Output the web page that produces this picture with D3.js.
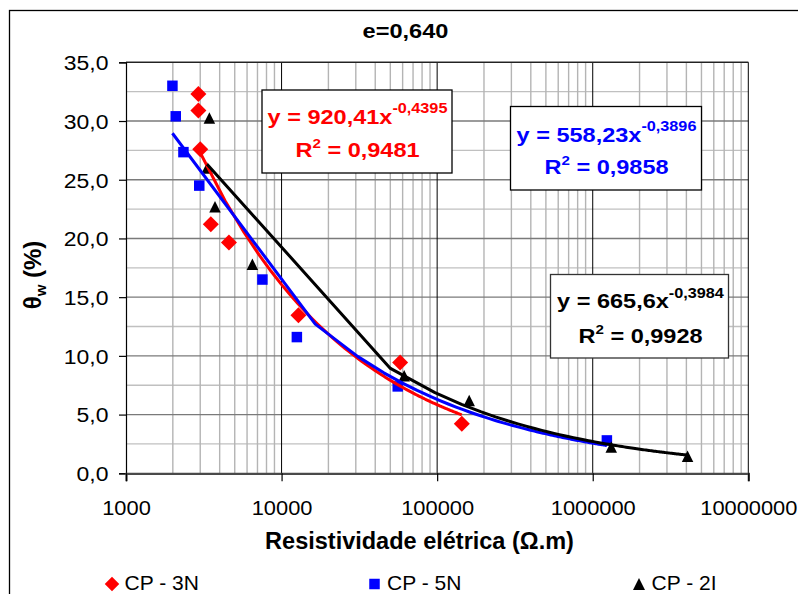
<!DOCTYPE html>
<html>
<head>
<meta charset="utf-8">
<script src="https://cdn.jsdelivr.net/npm/d3@7"></script>
<style>
  html, body { margin: 0; padding: 0; background: #fff; }
  svg { display: block; font-family: "Liberation Sans", Arial, sans-serif; }
</style>
</head>
<body>
<svg id="chart" width="798" height="594"></svg>
<script>
// Measured points: electrical resistivity (Ω.m) vs. volumetric water content θw (%)
const seriesNames = ["CP - 3N", "CP - 5N", "CP - 2I"];
const seriesColors = ["#ff0000", "#0000ff", "#000000"];

const cp3nX = [2920, 2920, 3000, 3510, 4590, 12830, 57800, 144000];
const cp3nY = [32.3, 30.9, 27.6, 21.2, 19.65, 13.45, 9.43, 4.23];

const cp5nX = [1988, 2088, 2340, 2958, 7530, 12540, 55800, 1233000];
const cp5nY = [33.0, 30.4, 27.35, 24.5, 16.5, 11.6, 7.4, 2.8];

const cp2iX = [3436, 3320, 3734, 6490, 61400, 160700, 1315000, 4070000];
const cp2iY = [30.25, 26.0, 22.7, 17.8, 8.3, 6.2, 2.25, 1.45];

// Power-law fits y = a·x^b shown in the labels
const fitA = [920.41, 558.23, 665.6];
const fitB = [-0.4395, -0.3896, -0.3984];
const fitR2 = ["0,9481", "0,9858", "0,9928"];
const fitAText = ["920,41", "558,23", "665,6"];
const fitBText = ["-0,4395", "-0,3896", "-0,3984"];
// trend curves are sampled at evenly spaced resistivity steps
const trendSegments = [100, 85, 87];

const xTickValues = [1000, 10000, 100000, 1000000, 10000000];
const yTickValues = [0, 5, 10, 15, 20, 25, 30, 35];

const chartTitle = "e=0,640";
const xTitle = "Resistividade elétrica (Ω.m)";

const svg = d3.select("#chart");

const x = d3.scaleLog().domain([1000, 10000000]).range([126, 748.3]);
const y = d3.scaleLinear().domain([0, 35]).range([473.3, 62.3]);

// outer chart frame
svg.append("rect")
  .attr("x", 9.5).attr("y", 10.5).attr("width", 820).attr("height", 620)
  .attr("fill", "#fff").attr("stroke", "#000").attr("stroke-width", 1.3);

const grid = svg.append("g");
const [x0, x1] = x.range();
const [y0, y1] = y.range();

// minor horizontal grid (every 2.5)
d3.range(2.5, 35, 5).forEach(v => {
  grid.append("line").attr("x1", x0).attr("x2", x1).attr("y1", y(v)).attr("y2", y(v))
    .attr("stroke", "#c0c0c0").attr("stroke-width", 1.3);
});
// minor vertical grid (2..9 in each decade)
[1000, 10000, 100000, 1000000].forEach(dec => {
  d3.range(2, 10).forEach(k => {
    const px = x(k * dec);
    grid.append("line").attr("x1", px).attr("x2", px).attr("y1", y1).attr("y2", y0)
      .attr("stroke", "#b4b4b4").attr("stroke-width", 1.4);
  });
});
// major horizontal grid
yTickValues.filter(v => v > 0).forEach(v => {
  grid.append("line").attr("x1", x0).attr("x2", x1).attr("y1", y(v)).attr("y2", y(v))
    .attr("stroke", "#7a7a7a").attr("stroke-width", 1.4);
});
// decade lines
xTickValues.slice(1).forEach(v => {
  grid.append("line").attr("x1", x(v)).attr("x2", x(v)).attr("y1", y1).attr("y2", y0)
    .attr("stroke", "#000").attr("stroke-width", 1);
});
grid.append("line").attr("x1", x0).attr("x2", x1).attr("y1", y1).attr("y2", y1)
  .attr("stroke", "#222").attr("stroke-width", 1.2);

const commaFmt = v => d3.format(".1f")(v).replace(".", ",");

// y axis
const gy = svg.append("g").attr("transform", `translate(${x0},0)`)
  .call(d3.axisLeft(y).tickValues(yTickValues).tickSize(7).tickFormat(commaFmt));
gy.select(".domain").attr("stroke", "#000").attr("stroke-width", 1.2);
gy.selectAll(".tick line").attr("stroke", "#000").attr("stroke-width", 1.2);
gy.selectAll(".tick text")
  .attr("x", 0).attr("dy", "0.36em")
  .attr("transform", "translate(-17.5,0) scale(1.12,1)")
  .attr("font-size", 20.5).attr("font-family", null).attr("fill", "#000");

// x axis
const gx = svg.append("g").attr("transform", `translate(0,${y0})`)
  .call(d3.axisBottom(x).tickValues(xTickValues).tickSize(8).tickFormat(d3.format("d")));
gx.select(".domain").attr("stroke", "#4a4a4a").attr("stroke-width", 2.2);
gx.selectAll(".tick line").attr("stroke", "#000").attr("stroke-width", 1.2);
gx.selectAll(".tick text")
  .attr("y", 0).attr("dy", null)
  .attr("transform", "translate(0,41.7) scale(1.04,1)")
  .attr("font-size", 21).attr("font-family", null).attr("fill", "#000");

// markers
function markerPath(kind, s) {
  if (kind === 0) { const h = s / 2; return `M0,${-h}L${h},0L0,${h}L${-h},0Z`; }
  if (kind === 1) { const h = s / 2; return `M${-h},${-h}H${h}V${h}H${-h}Z`; }
  const h = s / 2; return `M0,${-h}L${h},${h}L${-h},${h}Z`;
}
const markerSizes = [16, 10.5, 11.5];
const allX = [cp3nX, cp5nX, cp2iX];
const allY = [cp3nY, cp5nY, cp2iY];

allX.forEach((xs, si) => {
  const pts = xs.map((v, i) => [v, allY[si][i]]);
  svg.append("g").selectAll("path").data(pts).join("path")
    .attr("d", markerPath(si, markerSizes[si]))
    .attr("transform", d => `translate(${x(d[0])},${y(d[1])})`)
    .attr("fill", seriesColors[si]);
});

// power-law trend curves
const line = d3.line().x(d => x(d[0])).y(d => y(d[1]));
allX.forEach((xs, si) => {
  const lo = d3.min(xs), hi = d3.max(xs), n = trendSegments[si];
  const pts = d3.range(n + 1).map(i => {
    const xv = lo + (hi - lo) * i / n;
    return [xv, fitA[si] * Math.pow(xv, fitB[si])];
  });
  svg.append("path").attr("d", line(pts)).attr("fill", "none")
    .attr("stroke", seriesColors[si]).attr("stroke-width", 3)
    .attr("stroke-linejoin", "round");
});

// equation boxes
const boxes = [
  { x: 262, y: 90, w: 190, h: 83, l1: 123.5, l2: 156.5, cx: 357.5 },
  { x: 510.5, y: 106.5, w: 191, h: 83.5, l1: 141.5, l2: 174, cx: 606.5 },
  { x: 550.5, y: 274.5, w: 178, h: 83.5, l1: 308, l2: 343, cx: 640.5 }
];
boxes.forEach((b, si) => {
  svg.append("rect").attr("x", b.x).attr("y", b.y).attr("width", b.w).attr("height", b.h)
    .attr("fill", "#fff").attr("stroke", si === 2 ? "#333" : "#000").attr("stroke-width", 1.3);
  const g1 = svg.append("g").attr("transform", `translate(${b.cx},${b.l1}) scale(1.12,1)`);
  const t1 = g1.append("text").attr("text-anchor", "middle").attr("font-weight", "bold")
    .attr("font-size", 21).attr("fill", seriesColors[si]);
  t1.append("tspan").text(`y = ${fitAText[si]}x`);
  t1.append("tspan").attr("dy", -10.5).attr("font-size", 14.5).text(fitBText[si]);
  const g2 = svg.append("g").attr("transform", `translate(${b.cx},${b.l2}) scale(1.12,1)`);
  const t2 = g2.append("text").attr("text-anchor", "middle").attr("font-weight", "bold")
    .attr("font-size", 21).attr("fill", seriesColors[si]);
  t2.append("tspan").text("R");
  t2.append("tspan").attr("dy", -9).attr("font-size", 13.5).text("2");
  t2.append("tspan").attr("dy", 9).text(` = ${fitR2[si]}`);
});

// titles
svg.append("g").attr("transform", "translate(405.5,38) scale(1.15,1)")
  .append("text").attr("text-anchor", "middle").attr("font-weight", "bold")
  .attr("font-size", 20.5).text(chartTitle);

svg.append("text").attr("x", 419.5).attr("y", 549).attr("text-anchor", "middle")
  .attr("font-weight", "bold").attr("font-size", 23.5).text(xTitle);

const yt = svg.append("text").attr("transform", "translate(41,275) rotate(-90)")
  .attr("text-anchor", "middle").attr("font-weight", "bold").attr("font-size", 24);
yt.append("tspan").text("θ");
yt.append("tspan").attr("dy", 5).attr("font-size", 15).text("w");
yt.append("tspan").attr("dy", -5).text(" (%)");

// legend
const legendX = [112, 374.5, 639];
seriesNames.forEach((name, si) => {
  svg.append("path").attr("d", markerPath(si, [14.5, 10.5, 12][si]))
    .attr("transform", `translate(${legendX[si]},584)`).attr("fill", seriesColors[si]);
  svg.append("text").attr("x", legendX[si] + 12.5).attr("y", 590)
    .attr("font-size", 21).text(name);
});
</script>
</body>
</html>
